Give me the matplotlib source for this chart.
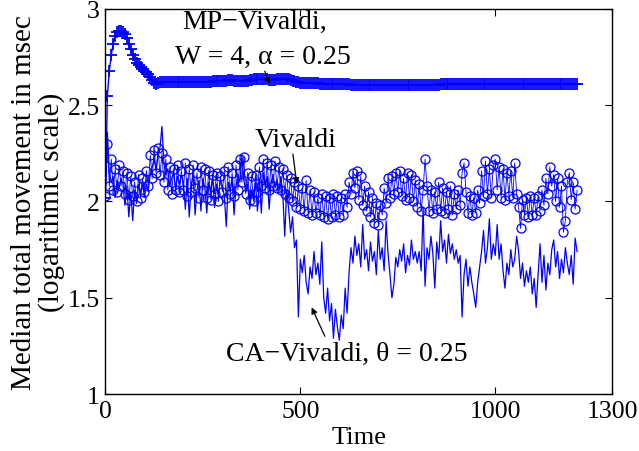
import numpy as np
import matplotlib
matplotlib.use('Agg')
import matplotlib.pyplot as plt

plt.rcParams['font.family'] = ['Liberation Serif', 'DejaVu Serif']

# time axis, every 5 time units
time = np.arange(0, 1215, 5)

# MP-Vivaldi, W = 4, alpha = 0.25
mp_vivaldi = [
    2.02, 2.55, 2.68, 2.76, 2.82, 2.86, 2.88, 2.885, 2.885, 2.88,
    2.87, 2.85, 2.82, 2.79, 2.76, 2.74, 2.72, 2.71, 2.70, 2.69,
    2.68, 2.67, 2.66, 2.645, 2.63, 2.615, 2.61, 2.615, 2.62, 2.62,
    2.62, 2.62, 2.618, 2.62, 2.62, 2.62, 2.621, 2.62, 2.62, 2.62,
    2.62, 2.62, 2.62, 2.622, 2.62, 2.62, 2.62, 2.62, 2.621, 2.62,
    2.62, 2.62, 2.62, 2.62, 2.623, 2.624, 2.625, 2.625, 2.626, 2.626,
    2.627, 2.628, 2.628, 2.63, 2.63, 2.63, 2.628, 2.628, 2.627, 2.626,
    2.625, 2.625, 2.626, 2.628, 2.63, 2.632, 2.634, 2.635, 2.636, 2.635,
    2.635, 2.636, 2.635, 2.634, 2.633, 2.632, 2.632, 2.633, 2.634, 2.634,
    2.635, 2.636, 2.636, 2.635, 2.634, 2.632, 2.628, 2.624, 2.62, 2.618,
    2.617, 2.616, 2.616, 2.615, 2.615, 2.615, 2.614, 2.614, 2.613, 2.613,
    2.612, 2.612, 2.612, 2.611, 2.611, 2.61, 2.61, 2.61, 2.61, 2.61,
    2.61, 2.61, 2.609, 2.609, 2.608, 2.608, 2.607, 2.607, 2.606, 2.606,
    2.605, 2.605, 2.605, 2.605, 2.605, 2.604, 2.604, 2.604, 2.604, 2.604,
    2.604, 2.604, 2.604, 2.604, 2.604, 2.605, 2.605, 2.605, 2.605, 2.605,
    2.605, 2.605, 2.605, 2.605, 2.605, 2.605, 2.605, 2.605, 2.605, 2.605,
    2.605, 2.605, 2.605, 2.605, 2.605, 2.606, 2.606, 2.606, 2.606, 2.607,
    2.607, 2.607, 2.608, 2.608, 2.608, 2.608, 2.608, 2.608, 2.608, 2.608,
    2.608, 2.608, 2.608, 2.608, 2.608, 2.608, 2.608, 2.608, 2.608, 2.608,
    2.608, 2.608, 2.608, 2.608, 2.608, 2.608, 2.608, 2.608, 2.608, 2.608,
    2.608, 2.608, 2.608, 2.608, 2.608, 2.608, 2.608, 2.608, 2.608, 2.608,
    2.608, 2.608, 2.608, 2.608, 2.608, 2.608, 2.608, 2.608, 2.608, 2.608,
    2.608, 2.608, 2.608, 2.608, 2.608, 2.608, 2.608, 2.608, 2.608, 2.608,
    2.608, 2.608, 2.608, 2.608, 2.608, 2.608, 2.608, 2.608, 2.608, 2.608,
    2.608, 2.608, 2.608,
]

# Vivaldi
vivaldi = [
    2.03, 2.30, 2.08, 2.22, 2.06, 2.17, 2.05, 2.19, 2.08, 2.16,
    2.04, 2.15, 2.01, 2.13, 2.03, 2.10, 2.00, 2.14, 2.02, 2.12,
    2.05, 2.16, 2.08, 2.24, 2.12, 2.27, 2.15, 2.28, 2.14, 2.25,
    2.10, 2.22, 2.06, 2.18, 2.04, 2.17, 2.06, 2.19, 2.05, 2.16,
    2.06, 2.20, 2.03, 2.17, 2.05, 2.19, 2.07, 2.15, 2.02, 2.18,
    2.06, 2.17, 2.02, 2.16, 2.01, 2.14, 2.04, 2.15, 2.00, 2.13,
    2.05, 2.16, 2.02, 2.18, 2.04, 2.15, 2.03, 2.19, 2.06, 2.22,
    2.10, 2.23, 2.04, 2.15, 2.01, 2.13, 2.00, 2.14, 2.05, 2.18,
    2.08, 2.22, 2.07, 2.20, 2.06, 2.19, 2.08, 2.21, 2.07, 2.18,
    2.06, 2.17, 2.04, 2.14, 2.02, 2.12, 2.00, 2.10, 1.97, 2.08,
    1.96, 2.07, 1.95, 2.11, 1.94, 2.06, 1.93, 2.05, 1.94, 2.02,
    1.93, 2.04, 1.92, 2.03, 1.91, 2.02, 1.92, 2.04, 1.93, 2.03,
    1.92, 2.02, 1.93, 2.04, 1.97, 2.10, 2.04, 2.15, 2.07, 2.16,
    2.01, 2.13, 1.98, 2.08, 1.95, 2.05, 1.92, 2.02, 1.89, 1.99,
    1.88, 1.98, 1.93, 2.07, 1.99, 2.12, 2.02, 2.13, 2.04, 2.15,
    2.05, 2.16, 2.03, 2.12, 2.01, 2.15, 2.02, 2.14, 2.00, 2.11,
    1.97, 2.09, 1.95, 2.06, 2.22, 2.08, 1.95, 2.06, 1.94, 2.05,
    1.96, 2.10, 1.95, 2.07, 1.94, 2.05, 1.96, 2.08, 1.93, 2.04,
    1.96, 2.06, 1.98, 2.15, 2.20, 2.05, 1.94, 2.03, 1.93, 2.02,
    1.94, 2.06, 1.99, 2.16, 2.03, 2.21, 2.04, 2.17, 2.02, 2.19,
    2.22, 2.06, 2.18, 2.02, 2.17, 2.01, 2.15, 2.03, 2.16, 2.02,
    2.20, 2.04, 1.97, 1.86, 2.01, 1.93, 2.02, 1.92, 2.03, 1.93,
    2.02, 1.93, 2.03, 1.95, 2.06, 1.98, 2.12, 2.04, 2.18, 2.08,
    2.14, 2.00, 2.12, 1.97, 2.08, 1.84, 1.90, 2.10, 2.15, 2.01,
    2.10, 1.96, 2.06,
]

# CA-Vivaldi, theta = 0.25
ca_vivaldi = [
    2.08, 2.36, 2.15, 2.10, 2.13, 2.02, 2.11, 2.07, 2.12, 2.09,
    1.98, 2.08, 1.92, 2.05, 1.90, 2.06, 1.99, 2.09, 2.04, 2.10,
    2.02, 2.09, 2.06, 2.14, 2.18, 2.22, 2.16, 2.24, 2.28, 2.39,
    2.20, 2.14, 2.17, 2.08, 2.12, 2.15, 2.06, 2.13, 2.09, 2.14,
    2.10, 1.96, 2.12, 1.92, 2.08, 2.14, 1.93, 2.06, 2.11, 1.95,
    2.12, 2.07, 1.94, 2.10, 2.05, 2.13, 1.97, 2.09, 2.04, 2.11,
    2.08, 2.03, 1.87, 2.10, 2.05, 2.12, 1.93, 2.08, 2.14, 2.10,
    2.24, 2.11, 2.05, 2.09, 1.96, 2.06, 2.01, 2.10, 1.95, 2.12,
    1.94, 2.15, 2.08, 2.13, 1.96, 2.10, 2.14, 2.07, 2.11, 2.05,
    2.13, 2.04, 1.82, 2.06, 1.96, 1.84, 1.92, 1.76, 1.80, 1.40,
    1.70, 1.63, 1.72, 1.58, 1.52, 1.66, 1.60, 1.74, 1.62, 1.68,
    1.57, 1.79, 1.50, 1.42, 1.55, 1.38, 1.47, 1.29, 1.44, 1.35,
    1.28, 1.41, 1.34, 1.55, 1.42, 1.63, 1.76, 1.68, 1.82, 1.72,
    1.78, 1.66, 1.88, 1.70, 1.75, 1.64, 1.79, 1.69, 1.74, 1.62,
    1.85, 1.70, 1.76, 1.64, 1.90, 1.73, 1.62, 1.50, 1.57, 1.71,
    1.66, 1.75, 1.69, 1.78, 1.63, 1.72, 1.67, 1.80, 1.70, 1.74,
    1.68, 1.74, 1.64, 1.97, 1.56, 1.76, 1.70, 1.82, 1.73, 1.55,
    1.79, 1.70, 1.90, 1.74, 1.80, 1.68, 1.83, 1.73, 1.78, 1.70,
    1.75, 1.68, 1.72, 1.40, 1.62, 1.70, 1.56, 1.66, 1.58, 1.52,
    1.45, 1.58, 1.66, 1.74, 1.85, 1.68, 1.76, 1.91, 1.70, 1.78,
    1.72, 1.88, 1.70, 1.78, 1.64, 1.55, 1.68, 1.62, 1.75, 1.66,
    1.70, 1.82, 1.74, 1.60, 1.68, 1.56, 1.64, 1.58, 1.66, 1.52,
    1.60, 1.45, 1.62, 1.78, 1.58, 1.72, 1.54, 1.68, 1.62, 1.75,
    1.80, 1.66, 1.74, 1.60, 1.70, 1.63, 1.76, 1.68, 1.62, 1.72,
    1.57, 1.81, 1.74,
]

x_ticks = [0, 500, 1000, 1300]
y_ticks = [1, 1.5, 2, 2.5, 3]
y_tick_labels = ['1', '1.5', '2', '2.5', '3']

fs = 19
blue = '#0000ff'

fig = plt.figure(figsize=(6.39, 4.52), dpi=100)
ax = fig.add_axes([0.165, 0.126, 0.793, 0.852])

ax.plot(time, ca_vivaldi, '-', color=blue, lw=0.9)
ax.plot(time, vivaldi, '-o', color=blue, lw=0.6, ms=6.5, mfc='none', mew=0.9)
ax.plot(time, mp_vivaldi, '-+', color=blue, lw=1.0, ms=8, mew=1.3)

ax.set_xlim(0, 1300)
ax.set_ylim(1, 3)
ax.set_xticks(x_ticks)
ax.set_yticks(y_ticks)
ax.set_yticklabels(y_tick_labels)
ax.tick_params(direction='in', top=True, right=True, length=5, width=0.8,
               labelsize=18.5)
ax.tick_params(axis='x', pad=4)
ax.tick_params(axis='y', pad=4)
for s in ax.spines.values():
    s.set_linewidth(1.0)

ax.set_xlabel('Time', fontsize=fs, labelpad=3)
ax.set_ylabel('Median total movement in msec\n(logarithmic scale)',
              fontsize=21, labelpad=2, linespacing=1.05)

arrow = dict(arrowstyle='-|>', color='black', lw=0.9,
             mutation_scale=9, shrinkA=0, shrinkB=0)

ax.text(383, 2.935, 'MP\u2212Vivaldi,', fontsize=20, ha='center', va='center')
ax.text(404, 2.755, 'W = 4, \u03b1 = 0.25', fontsize=20, ha='center', va='center')
ax.annotate('', xy=(421, 2.61), xytext=(409, 2.677), arrowprops=arrow)

ax.text(488, 2.32, 'Vivaldi', fontsize=20, ha='center', va='center')
ax.annotate('', xy=(491, 2.09), xytext=(481, 2.246), arrowprops=arrow)

ax.text(619, 1.21, 'CA\u2212Vivaldi, \u03b8 = 0.25', fontsize=20,
        ha='center', va='center')
ax.annotate('', xy=(529, 1.45), xytext=(563, 1.30), arrowprops=arrow)

fig.savefig('out.png', dpi=100)
